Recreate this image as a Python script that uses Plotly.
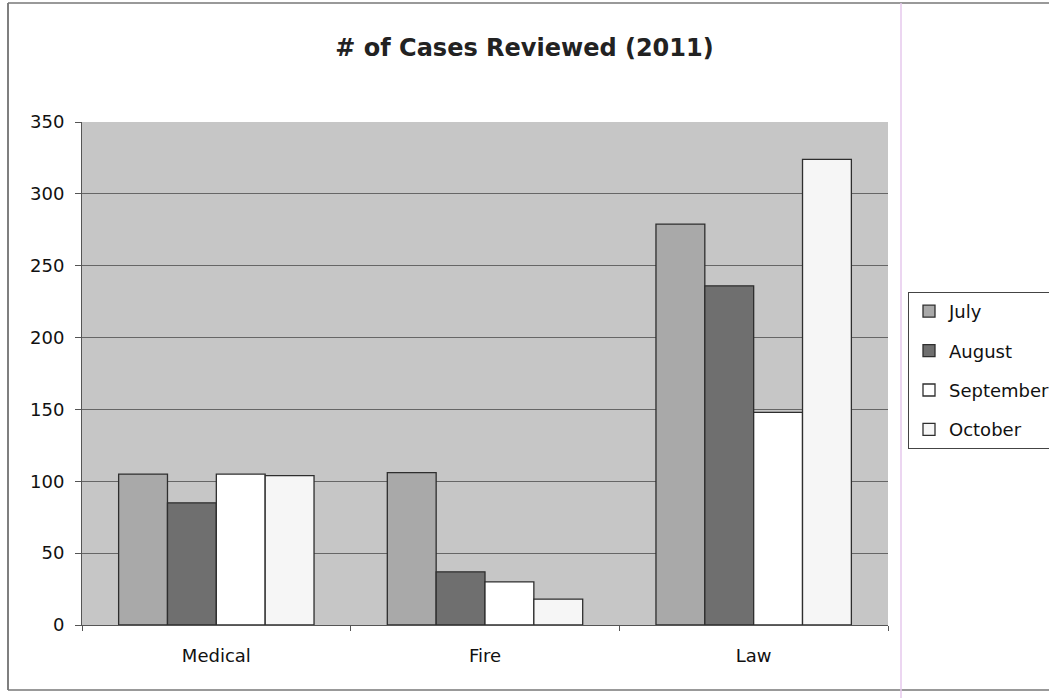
import plotly.graph_objects as go

categories = ["Medical", "Fire", "Law"]
months = ["July", "August", "September", "October"]
july = [105, 106, 279]
august = [85, 37, 236]
september = [105, 30, 148]
october = [104, 18, 324]
series_values = [july, august, september, october]
colors = ["#a9a9a9", "#6f6f6f", "#ffffff", "#f6f6f6"]
y_ticks = [0, 50, 100, 150, 200, 250, 300, 350]

W, H = 1049, 698
L, R, T, B = 82, 888, 122, 625
FONT = "DejaVu Sans, Arial, sans-serif"

fig = go.Figure()
for i, (name, vals) in enumerate(zip(months, series_values)):
    fig.add_trace(go.Bar(
        x=categories, y=vals, name=name,
        marker=dict(color=colors[i], line=dict(color="#2e2e2e", width=1.3)),
        legendgroup=name,
    ))

def px_x(p):
    return (p - L) / (R - L)

def px_y(p):
    return (B - p) / (B - T)

shapes = [
    dict(type="line", xref="paper", yref="paper", x0=px_x(8), x1=px_x(8), y0=px_y(3), y1=px_y(690),
         line=dict(color="#555555", width=1.5)),
    dict(type="line", xref="paper", yref="paper", x0=px_x(8), x1=px_x(1049), y0=px_y(3), y1=px_y(3),
         line=dict(color="#777777", width=1.5)),
    dict(type="line", xref="paper", yref="paper", x0=px_x(8), x1=px_x(1049), y0=px_y(690), y1=px_y(690),
         line=dict(color="#777777", width=1.5)),
    dict(type="line", xref="paper", yref="paper", x0=px_x(901), x1=px_x(901), y0=px_y(3), y1=px_y(698),
         line=dict(color="#e6c8ec", width=1.5)),
]

fig.update_layout(
    width=W, height=H,
    margin=dict(l=L, r=W - R, t=T, b=H - B, autoexpand=False),
    paper_bgcolor="white",
    plot_bgcolor="#c6c6c6",
    font=dict(family=FONT, size=18, color="#111111"),
    title=dict(text="<b># of Cases Reviewed (2011)</b>", x=0.5, xref="container",
               y=1 - 48 / H, yref="container", yanchor="middle",
               font=dict(family=FONT, size=24, color="#222222")),
    barmode="group",
    bargap=0.2727,
    bargroupgap=0,
    showlegend=True,
    legend=dict(x=px_x(908), y=px_y(292), xanchor="left", yanchor="top",
                bgcolor="white", bordercolor="#444444", borderwidth=1,
                font=dict(family=FONT, size=18, color="#111111"), tracegroupgap=13,
                itemwidth=30),
    shapes=shapes,
)
fig.update_xaxes(
    type="category", tickson="boundaries", ticks="outside", ticklen=5, tickcolor="#555555",
    showline=True, linecolor="#555555", linewidth=1, mirror=False,
    showgrid=False, tickfont=dict(family=FONT, size=18), ticklabelstandoff=14,
)
fig.update_yaxes(
    range=[0, 350], tickvals=y_ticks, ticks="outside", ticklen=6, tickcolor="#555555",
    showline=True, linecolor="#555555", linewidth=1,
    showgrid=True, gridcolor="#666666", gridwidth=1, zeroline=False,
    tickfont=dict(family=FONT, size=18), ticklabelstandoff=7,
)

post = (
    "document.documentElement.style.margin='0px';"
    "document.documentElement.style.overflow='hidden';"
    "document.body.style.margin='0px';"
    "document.body.style.overflow='hidden';"
)
fig.write_html("out.html", post_script=post, config={"displayModeBar": False})
